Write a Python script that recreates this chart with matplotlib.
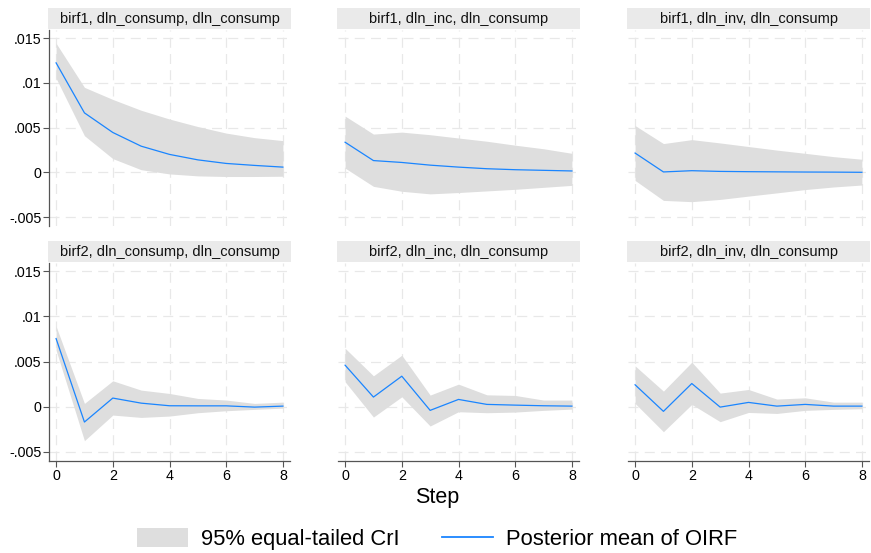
import matplotlib
matplotlib.use("Agg")
import matplotlib.pyplot as plt
from matplotlib.patches import Rectangle, Patch
from matplotlib.lines import Line2D
import numpy as np

plt.rcParams['font.family'] = ['Liberation Sans', 'DejaVu Sans']

steps = [0, 1, 2, 3, 4, 5, 6, 7, 8]

titles = [
    "birf1, dln_consump, dln_consump",
    "birf1, dln_inc, dln_consump",
    "birf1, dln_inv, dln_consump",
    "birf2, dln_consump, dln_consump",
    "birf2, dln_inc, dln_consump",
    "birf2, dln_inv, dln_consump",
]

mean_b1_cc = [0.01223, 0.00664, 0.00445, 0.00292, 0.0020, 0.00139, 0.00099, 0.00077, 0.00058]
upper_b1_cc = [0.01442, 0.00949, 0.00814, 0.00693, 0.00595, 0.00511, 0.00438, 0.00387, 0.00354]
lower_b1_cc = [0.01051, 0.00409, 0.00153, 0.00029, -0.00018, -0.0004, -0.00047, -0.00047, -0.00044]

mean_b1_ic = [0.00336, 0.00131, 0.0011, 0.0008, 0.00058, 0.0004, 0.00029, 0.00022, 0.00015]
upper_b1_ic = [0.00628, 0.00427, 0.00449, 0.0042, 0.00383, 0.00347, 0.00303, 0.00263, 0.00212]
lower_b1_ic = [0.00047, -0.00157, -0.00212, -0.00241, -0.00226, -0.00208, -0.0019, -0.00168, -0.00146]

mean_b1_vc = [0.00215, 0.00004, 0.00018, 0.0001, 0.00007, 0.00005, 0.00003, 0.00002, 0.0]
upper_b1_vc = [0.00522, 0.00321, 0.00365, 0.00328, 0.00288, 0.00248, 0.00212, 0.00175, 0.00146]
lower_b1_vc = [-0.00091, -0.00314, -0.00328, -0.00303, -0.00266, -0.0023, -0.00193, -0.00164, -0.00142]

mean_b2_cc = [0.00754, -0.00169, 0.00096, 0.0004, 0.00011, 0.0001, 0.0001, -0.00004, 0.00007]
upper_b2_cc = [0.0089, 0.00037, 0.00287, 0.00184, 0.00147, 0.00092, 0.00074, 0.00037, 0.00051]
lower_b2_cc = [0.00625, -0.00375, -0.00092, -0.00118, -0.00103, -0.00066, -0.00044, -0.00029, -0.00015]

mean_b2_ic = [0.0046, 0.00107, 0.00338, -0.0004, 0.00081, 0.00026, 0.00018, 0.00011, 0.00007]
upper_b2_ic = [0.00647, 0.00342, 0.0057, 0.00129, 0.0025, 0.00132, 0.00125, 0.00074, 0.00074]
lower_b2_ic = [0.00276, -0.00114, 0.0011, -0.00213, -0.00055, -0.00066, -0.00059, -0.0004, -0.00026]

mean_b2_vc = [0.00243, -0.00051, 0.00257, -0.00004, 0.00048, 0.00007, 0.00026, 0.00007, 0.00007]
upper_b2_vc = [0.00452, 0.00173, 0.00493, 0.00151, 0.00191, 0.00085, 0.00099, 0.00051, 0.00051]
lower_b2_vc = [0.00037, -0.00276, 0.00026, -0.00165, -0.00063, -0.00074, -0.0004, -0.00029, -0.00022]

means = [mean_b1_cc, mean_b1_ic, mean_b1_vc, mean_b2_cc, mean_b2_ic, mean_b2_vc]
uppers = [upper_b1_cc, upper_b1_ic, upper_b1_vc, upper_b2_cc, upper_b2_ic, upper_b2_vc]
lowers = [lower_b1_cc, lower_b1_ic, lower_b1_vc, lower_b2_cc, lower_b2_ic, lower_b2_vc]

yticks = [-0.005, 0, 0.005, 0.01, 0.015]
ytick_labels = ["-.005", "0", ".005", ".01", ".015"]
xticks = [0, 2, 4, 6, 8]

W, H = 871, 553
fig = plt.figure(figsize=(W / 100, H / 100), dpi=100)

band_color = "#dedede"
line_color = "#1a85ff"
grid_color = "#e8e8e8"
strip_color = "#eaeaea"

col_left = [49, 338, 628]
ax_w = 241
row_top = [30, 263]
ax_h = [196, 198]
strip_h = 21

for i in range(6):
    r, c = divmod(i, 3)
    x0 = col_left[c]
    y0 = row_top[r]
    ax = fig.add_axes([x0 / W, 1 - (y0 + ax_h[r]) / H, ax_w / W, ax_h[r] / H])
    ax.fill_between(steps, lowers[i], uppers[i], color=band_color, linewidth=0, zorder=2)
    ax.plot(steps, means[i], color=line_color, linewidth=0.9, zorder=3)
    ax.set_xlim(-0.25, 8.25)
    ax.set_ylim(-0.006, 0.0159)
    ax.set_xticks(xticks)
    ax.set_yticks(yticks)
    ax.set_yticklabels(ytick_labels)
    ax.grid(True, color=grid_color, linestyle=(0, (8, 5)), linewidth=0.9, zorder=0)
    ax.set_axisbelow(True)
    for s in ["top", "right"]:
        ax.spines[s].set_visible(False)
    ax.spines["left"].set_visible(c == 0)
    ax.spines["bottom"].set_visible(r == 1)
    for s in ["left", "bottom"]:
        ax.spines[s].set_color("#555555")
        ax.spines[s].set_linewidth(0.9)
    ax.tick_params(axis="y", left=(c == 0), labelleft=(c == 0), labelsize=10.3,
                   length=4.5, width=0.8, color="#555555", pad=1)
    ax.tick_params(axis="x", bottom=(r == 1), labelbottom=(r == 1), labelsize=10.3,
                   length=4.5, width=0.8, color="#555555", pad=1)
    # strip title
    sx0 = x0 - 1
    sw = ax_w + 2
    sy_top = y0 - strip_h - 1
    fig.patches.append(Rectangle((sx0 / W, 1 - (sy_top + strip_h) / H), sw / W, strip_h / H,
                                 transform=fig.transFigure, facecolor=strip_color,
                                 edgecolor="none", zorder=1))
    fig.text((sx0 + sw / 2) / W, 1 - (sy_top + strip_h / 2) / H, titles[i],
             ha="center", va="center", fontsize=10.5, color="#111111")

fig.text(437 / W, 1 - 497 / H, "Step", ha="center", va="center", fontsize=15.5)

handles = [Patch(facecolor=band_color, edgecolor="none"),
           Line2D([0], [0], color=line_color, linewidth=1.3)]
fig.legend(handles, ["95% equal-tailed CrI", "Posterior mean of OIRF"],
           loc="center", bbox_to_anchor=(437 / W, 1 - 539 / H), ncol=2, frameon=False,
           fontsize=15.8, handlelength=2.35, handleheight=1.0, columnspacing=1.9,
           handletextpad=0.59, borderpad=0, borderaxespad=0)

fig.savefig("out.png", dpi=100)
